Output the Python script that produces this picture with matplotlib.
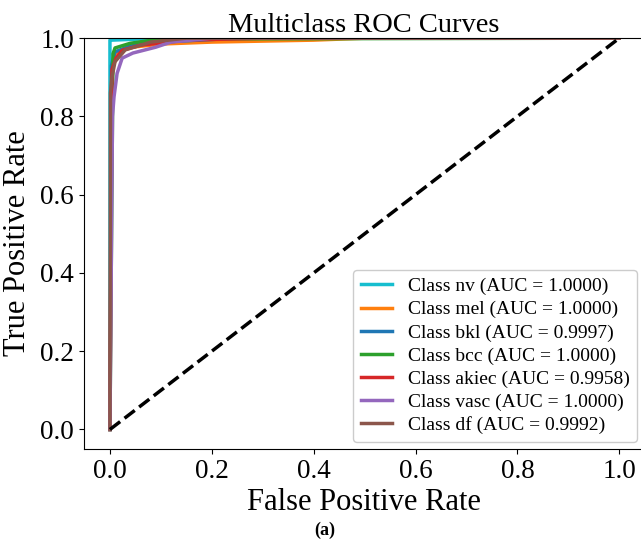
import matplotlib
matplotlib.use("Agg")
import matplotlib.pyplot as plt

plt.rcParams["font.family"] = ["Liberation Serif", "DejaVu Serif"]

# ROC points (fpr, tpr)
classes = ["nv", "mel", "bkl", "bcc", "akiec", "vasc", "df"]
aucs = ["1.0000", "1.0000", "0.9997", "1.0000", "0.9958", "1.0000", "0.9992"]
colors = ["#17becf", "#ff7f0e", "#1f77b4", "#2ca02c", "#d62728", "#9467bd", "#8c564b"]

fpr_nv = [0.0, 0.0, 0.004, 0.1, 1.0]
tpr_nv = [0.0, 0.995, 0.995, 1.0, 1.0]
fpr_mel = [0.0, 0.003, 0.01, 0.03, 0.1, 0.2, 0.4, 0.5, 1.0]
tpr_mel = [0.0, 0.9, 0.96, 0.975, 0.985, 0.99, 0.995, 1.0, 1.0]
fpr_bkl = [0.0, 0.003, 0.01, 0.04, 0.1, 0.25, 1.0]
tpr_bkl = [0.0, 0.93, 0.965, 0.98, 0.99, 1.0, 1.0]
fpr_bcc = [0.0, 0.006, 0.01, 0.04, 0.1, 1.0]
tpr_bcc = [0.0, 0.96, 0.975, 0.987, 0.998, 1.0]
fpr_akiec = [0.0, 0.004, 0.012, 0.024, 0.06, 0.15, 0.3, 1.0]
tpr_akiec = [0.0, 0.92, 0.949, 0.969, 0.982, 0.995, 1.0, 1.0]
fpr_vasc = [0.0, 0.005, 0.008, 0.014, 0.024, 0.045, 0.09, 0.12, 0.2, 1.0]
tpr_vasc = [0.0, 0.8, 0.85, 0.91, 0.949, 0.962, 0.977, 0.99, 1.0, 1.0]
fpr_df = [0.0, 0.001, 0.004, 0.01, 0.03, 0.08, 0.15, 1.0]
tpr_df = [0.0, 0.86, 0.9, 0.94, 0.97, 0.99, 1.0, 1.0]

fprs = [fpr_nv, fpr_mel, fpr_bkl, fpr_bcc, fpr_akiec, fpr_vasc, fpr_df]
tprs = [tpr_nv, tpr_mel, tpr_bkl, tpr_bcc, tpr_akiec, tpr_vasc, tpr_df]

fig = plt.figure(figsize=(6.41, 5.5), dpi=100)
ax = fig.add_axes([0.131, 0.1836, 0.874, 0.747])

for name, auc, c, fx, ty in zip(classes, aucs, colors, fprs, tprs):
    ax.plot(fx, ty, color=c, lw=2.5, label=f"Class {name} (AUC = {auc})")

ax.plot([0, 1], [0, 1], "k--", lw=2.5)

ax.set_xlim(-0.051, 1.049)
ax.set_ylim(-0.05, 1.0)
ax.set_xticks([0.0, 0.2, 0.4, 0.6, 0.8, 1.0])
ax.set_yticks([0.0, 0.2, 0.4, 0.6, 0.8, 1.0])
ax.tick_params(labelsize=19.5)
ax.set_xlabel("False Positive Rate", fontsize=22, labelpad=3)
ax.set_ylabel("True Positive Rate", fontsize=22, labelpad=6)
ax.set_title("Multiclass ROC Curves", fontsize=20.5, pad=4)

ax.legend(loc="lower right", fontsize=14, handlelength=1.6,
          labelspacing=0.28, borderaxespad=0.36, framealpha=1)

fig.text(0.507, 0.036, "(a)", ha="center", va="center",
         fontsize=13, fontweight="bold")

fig.savefig("out.png", dpi=100)
